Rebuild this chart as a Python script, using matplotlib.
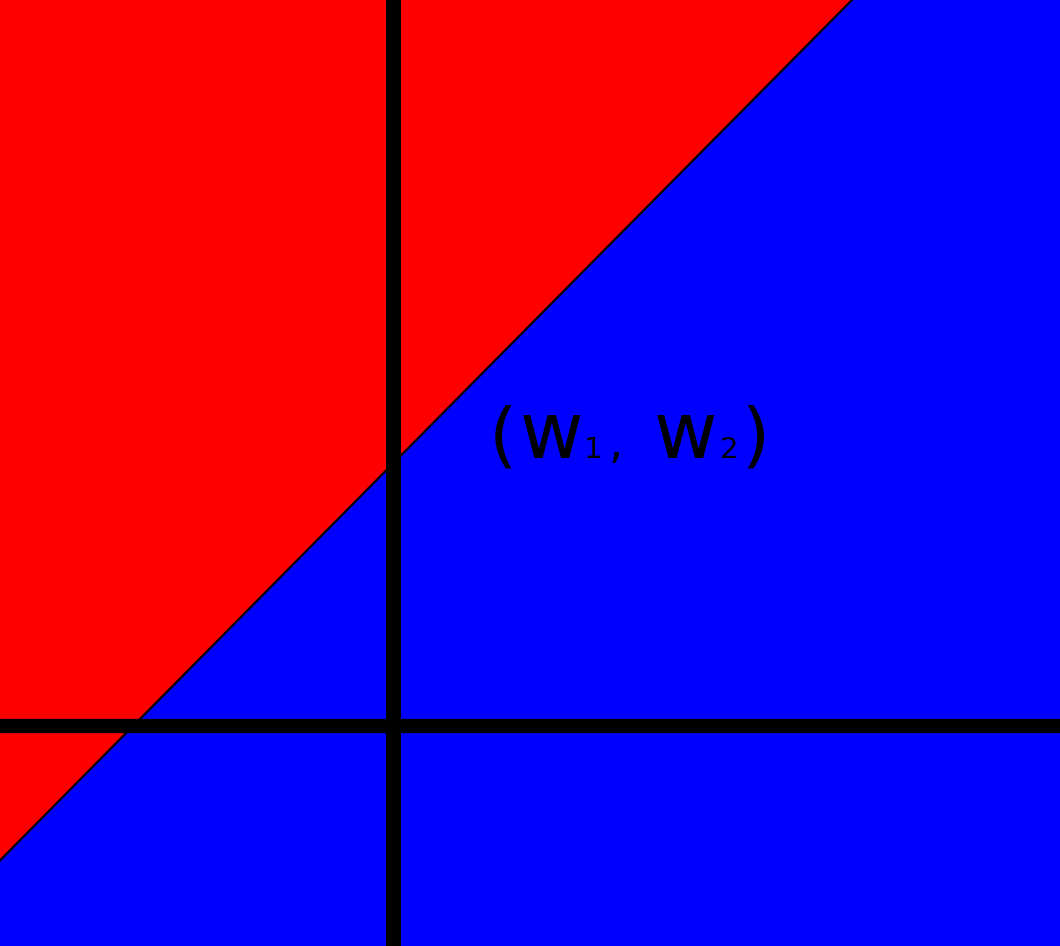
import numpy as np
import matplotlib
matplotlib.use('Agg')
import matplotlib.pyplot as plt

# view window in (w1, w2) space
w1_range = [-3.925, 6.675]
w2_range = [-2.2, 7.26]

# decision boundary w2 = slope*w1 + intercept
slope = 1.01
intercept = 2.62

# label pieces: (text, size) -- small digits act as subscripts
label_parts = [('(', 52), ('w', 56), ('1', 21), (',', 32), ('w', 56), ('2', 21), (')', 52)]

W, H = 1060, 946
fig = plt.figure(figsize=(W / 100, H / 100), dpi=100)
ax = fig.add_axes([0, 0, 1, 1])
ax.set_xlim(w1_range)
ax.set_ylim(w2_range)
ax.axis('off')

x = np.linspace(w1_range[0], w1_range[1], 200)
y = slope * x + intercept
ax.fill_between(x, y, w2_range[1] + 5, color='#ff0000', linewidth=0)
ax.fill_between(x, w2_range[0] - 5, y, color='#0000ff', linewidth=0)
ax.plot(x, y, color='black', linewidth=1.6)

# axes through the origin
ax.axvline(0, color='black', linewidth=10.8)
ax.axhline(0, color='black', linewidth=10.3)

# place the label piece by piece (pixel positions of each glyph origin)
x_px = [489, 520, 584, 609, 654, 720, 741]
baseline_px = 458
for (txt, size), xp in zip(label_parts, x_px):
    fig.text(xp / W, 1 - baseline_px / H, txt, fontsize=size, ha='left', va='baseline',
             family='DejaVu Sans', color='black')

fig.savefig('out.png', dpi=100)
